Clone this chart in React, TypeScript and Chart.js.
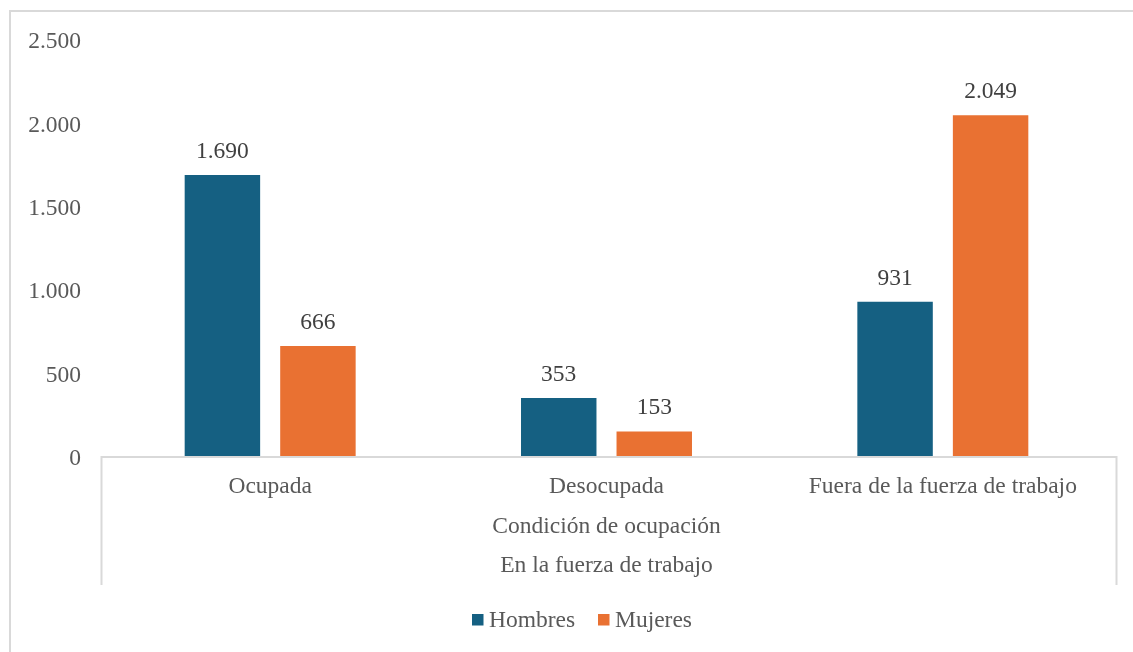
import React, { useEffect, useRef } from "react";
import { Chart, registerables } from "chart.js";

Chart.register(...registerables);

const categories = ["Ocupada", "Desocupada", "Fuera de la fuerza de trabajo"];
const level2Label = "Condición de ocupación";
const level3Label = "En la fuerza de trabajo";
const seriesNames = ["Hombres", "Mujeres"];
const hombres = [1690, 353, 931];
const mujeres = [666, 153, 2049];
const yTicks = [0, 500, 1000, 1500, 2000, 2500];
const colors = ["#156082", "#E97132"];

const FONT = "'Liberation Serif', 'Times New Roman', serif";
const FS = 23.5;
const TEXT = "#595959";
const LINE = "#D9D9D9";

const fmt = (v: number) => String(v).replace(/\B(?=(\d{3})+(?!\d))/g, ".");

const decorPlugin = {
  id: "decor",
  beforeDraw(chart: any) {
    const ctx = chart.ctx;
    ctx.save();
    ctx.fillStyle = "#ffffff";
    ctx.fillRect(0, 0, chart.width, chart.height);
    // outer border (left & top)
    ctx.strokeStyle = LINE;
    ctx.lineWidth = 2;
    ctx.beginPath();
    ctx.moveTo(10, chart.height);
    ctx.lineTo(10, 11);
    ctx.lineTo(chart.width, 11);
    ctx.stroke();
    ctx.restore();
  },
  afterDatasetsDraw(chart: any) {
    const ctx = chart.ctx;
    const area = chart.chartArea;
    const x = chart.scales.x;
    ctx.save();
    // axis lines
    ctx.strokeStyle = LINE;
    ctx.lineWidth = 2;
    const axL = 101.5;
    const axR = 1116.5;
    ctx.beginPath();
    ctx.moveTo(axL, 585);
    ctx.lineTo(axL, area.bottom);
    ctx.lineTo(axR, area.bottom);
    ctx.lineTo(axR, 585);
    ctx.stroke();

    // data labels
    ctx.font = `${FS}px ${FONT}`;
    ctx.fillStyle = "#404040";
    ctx.textAlign = "center";
    ctx.textBaseline = "alphabetic";
    chart.data.datasets.forEach((ds: any, di: number) => {
      const meta = chart.getDatasetMeta(di);
      meta.data.forEach((bar: any, i: number) => {
        ctx.fillText(fmt(ds.data[i]), bar.x, bar.y - 17);
      });
    });

    // category labels
    ctx.fillStyle = TEXT;
    categories.forEach((c, i) => {
      ctx.fillText(c, x.getPixelForValue(i), 493);
    });
    const mid = (area.left + area.right) / 2;
    ctx.fillText(level2Label, mid, 533);
    ctx.fillText(level3Label, mid, 572);

    // legend
    ctx.textAlign = "left";
    const items = [
      { x: 472, label: seriesNames[0], color: colors[0] },
      { x: 598, label: seriesNames[1], color: colors[1] },
    ];
    items.forEach((it) => {
      ctx.fillStyle = it.color;
      ctx.fillRect(it.x, 614, 11.5, 11.5);
      ctx.fillStyle = TEXT;
      ctx.fillText(it.label, it.x + 17, 626.5);
    });
    ctx.restore();
  },
};

export default function App() {
  const ref = useRef<HTMLCanvasElement | null>(null);
  useEffect(() => {
    if (!ref.current) return;
    const chart = new Chart(ref.current, {
      type: "bar",
      data: {
        labels: categories,
        datasets: [
          {
            label: seriesNames[0],
            data: hombres,
            backgroundColor: colors[0],
            categoryPercentage: 0.568,
            barPercentage: 0.79,
          },
          {
            label: seriesNames[1],
            data: mujeres,
            backgroundColor: colors[1],
            categoryPercentage: 0.568,
            barPercentage: 0.79,
          },
        ],
      },
      options: {
        responsive: false,
        animation: false,
        devicePixelRatio: 1,
        layout: { padding: { top: 40, bottom: 195, left: 0, right: 22 } },
        plugins: {
          legend: { display: false },
          tooltip: { enabled: false },
        },
        scales: {
          x: {
            display: false,
          },
          y: {
            min: 0,
            max: 2500,
            afterBuildTicks: (scale: any) => {
              scale.ticks = yTicks.map((v) => ({ value: v }));
            },
            afterFit: (scale: any) => {
              scale.width = 102;
            },
            grid: { display: false, drawTicks: false },
            border: { display: false },
            ticks: {
              padding: 21,
              labelOffset: 2,
              color: TEXT,
              font: { family: FONT, size: FS },
              callback: (v: any) => fmt(Number(v)),
            },
          },
        },
      },
      plugins: [decorPlugin],
    });
    return () => chart.destroy();
  }, []);
  return (
    <div style={{ position: "fixed", left: 0, top: 0, width: 1133, height: 652, background: "#fff" }}>
      <canvas ref={ref} width={1133} height={652} style={{ display: "block" }} />
    </div>
  );
}
